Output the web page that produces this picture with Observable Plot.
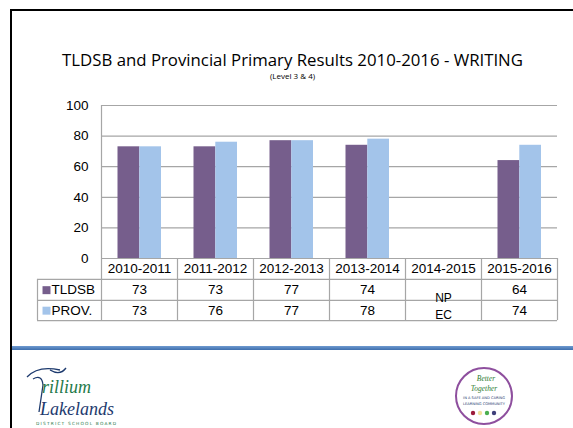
<!DOCTYPE html>
<html><head><meta charset="utf-8">
<script src="https://cdn.jsdelivr.net/npm/d3@7"></script>
<script src="https://cdn.jsdelivr.net/npm/@observablehq/plot@0.6"></script>
<style>
html,body{margin:0;padding:0;background:#fff;}
#wrap{position:relative;width:573px;height:428px;overflow:hidden;background:#fff;}
#wrap svg.plot{position:absolute;left:0;top:0;}
.deco{position:absolute;}
</style></head><body><div id="wrap">
<div class="deco" style="left:10px;top:9px;width:563px;height:2px;background:#000"></div>
<div class="deco" style="left:10px;top:9px;width:2px;height:419px;background:#000"></div>
<div class="deco" style="left:12px;top:346px;width:561px;height:4px;background:linear-gradient(#6f9ad0,#3f6fae)"></div>
<svg class="deco" style="left:20px;top:358px" width="130" height="70">
  <path d="M7 19 Q18 7 40 12 M13 21 Q22 16 23 27 L19 54 M30 12 Q40 18 46 10" stroke="#1d3a6e" stroke-width="1.3" fill="none"/>
  <text x="22" y="35" font-family="Liberation Serif, DejaVu Serif, serif" font-style="italic" font-size="18" fill="#1f7a4a">rillium</text>
  <text x="20" y="57" font-family="Liberation Serif, DejaVu Serif, serif" font-style="italic" font-size="18" fill="#1d3a6e">Lakelands</text>
  <text x="16" y="67" font-family="DejaVu Sans, sans-serif" font-size="4.3" letter-spacing="1.2" fill="#1f7a4a">DISTRICT SCHOOL BOARD</text>
</svg>
<svg class="deco" style="left:452px;top:364px" width="64" height="64">
  <circle cx="32" cy="32" r="28" fill="#fff" stroke="#8e4f9e" stroke-width="2"/>
  <text x="34" y="17" text-anchor="middle" font-family="Liberation Serif, serif" font-style="italic" font-size="7.5" fill="#2e7d32">Better</text>
  <text x="32" y="27" text-anchor="middle" font-family="Liberation Serif, serif" font-style="italic" font-size="7.5" fill="#2e7d32">Together</text>
  <text x="32" y="35" text-anchor="middle" font-family="DejaVu Sans, sans-serif" font-size="3.6" fill="#1d3a6e">IN A SAFE AND CARING</text>
  <text x="32" y="41" text-anchor="middle" font-family="DejaVu Sans, sans-serif" font-size="3.6" fill="#1d3a6e">LEARNING COMMUNITY</text>
  <circle cx="21" cy="49" r="2.2" fill="#9c1b3b"/><circle cx="28" cy="49" r="2.2" fill="#f2e29b"/>
  <circle cx="35" cy="49" r="2.2" fill="#4caf50"/><circle cx="42" cy="49" r="2.2" fill="#3f3f7a"/>
</svg>
</div>
<script>
const years = ["2010-2011","2011-2012","2012-2013","2013-2014","2014-2015","2015-2016"];
const tldsb = [73, 73, 77, 74, null, 64];
const prov  = [73, 76, 77, 78, null, 74];
const seriesNames = ["TLDSB", "PROV."];
const seriesColors = ["#765e8c", "#a3c4ea"];
const yTicks = [0, 20, 40, 60, 80, 100];
const missingNote = ["NP", "EC"];
const titleText = "TLDSB and Provincial Primary Results 2010-2016 - WRITING";
const subtitleText = "(Level 3 & 4)";

// table row positions, in y-scale units below zero
const rowLines = [-13.7, -27.4, -40.6];
const rowCenters = {header: -6.8, tldsb: -20.7, prov: -34.1};

const bars = [];
years.forEach((yr, i) => {
  if (tldsb[i] != null) bars.push({year: yr, series: seriesNames[0], value: tldsb[i]});
  if (prov[i] != null) bars.push({year: yr, series: seriesNames[1], value: prov[i]});
});
const cellRows = [];
years.forEach((yr, i) => {
  if (tldsb[i] != null) cellRows.push({year: yr, y: rowCenters.tldsb, label: String(tldsb[i])});
  if (prov[i] != null) cellRows.push({year: yr, y: rowCenters.prov, label: String(prov[i])});
});
const missingYear = years[tldsb.indexOf(null)];

const FONT = "Liberation Sans, Arial, sans-serif";
const half = 38;
const grid = "#a6a6a6";

const chart = Plot.plot({
  width: 573, height: 428,
  marginLeft: 101, marginRight: 16, marginTop: 105, marginBottom: 170,
  style: {background: "none", fontFamily: FONT, color: "#000", overflow: "visible"},
  x: {type: "band", domain: years, padding: 0, axis: null},
  y: {domain: [0, 100], axis: null},
  color: {domain: seriesNames, range: seriesColors},
  marks: [
    Plot.ruleY(yTicks, {stroke: grid, strokeWidth: 1.2}),
    Plot.barY(bars.filter(d => d.series === seriesNames[0]), {x: "year", y: "value", fill: "series", insetLeft: 16.5, insetRight: 37.7}),
    Plot.barY(bars.filter(d => d.series === seriesNames[1]), {x: "year", y: "value", fill: "series", insetLeft: 38.3, insetRight: 16}),
    Plot.text(yTicks, {x: () => years[0], y: d => d, text: d => String(d), dx: -half - 13, textAnchor: "end", fontSize: 13.5, fill: "#000"}),
    // table horizontal lines
    Plot.ruleY(rowLines, {stroke: grid, strokeWidth: 1.2, insetLeft: -64}),
    // table vertical lines
    Plot.ruleX(years, {x: d => d, dx: -half, y1: rowLines[2], y2: 0, stroke: grid, strokeWidth: 1.2}),
    Plot.ruleX([years[years.length - 1]], {x: d => d, dx: half, y1: rowLines[2], y2: 0, stroke: grid, strokeWidth: 1.2}),
    Plot.ruleX([years[0]], {x: d => d, dx: -half, y1: 0, y2: 100, stroke: grid, strokeWidth: 1.2}),
    Plot.ruleX([years[0]], {x: d => d, dx: -half - 64, y1: rowLines[2], y2: rowLines[0], stroke: grid, strokeWidth: 1.2}),
    // header row
    Plot.text(years, {x: d => d, y: rowCenters.header, text: d => d, fontSize: 13.5, fill: "#000"}),
    // values
    Plot.text(cellRows, {x: "year", y: "y", text: "label", fontSize: 13.5, fill: "#000"}),
    Plot.text([missingNote[0]], {x: () => missingYear, y: -25.6, text: d => d, fontSize: 12, fill: "#000"}),
    Plot.text([missingNote[1]], {x: () => missingYear, y: -36.8, text: d => d, fontSize: 12, fill: "#000"}),
    // legend in table
    Plot.dot(seriesNames, {x: () => years[0], y: (d, i) => i === 0 ? rowCenters.tldsb : rowCenters.prov, dx: -half - 55, symbol: "square", r: 4.5, fill: d => d}),
    Plot.text(seriesNames, {x: () => years[0], y: (d, i) => i === 0 ? rowCenters.tldsb : rowCenters.prov, dx: -half - 50, text: d => d, textAnchor: "start", fontSize: 13.5, fill: "#000"}),
    // title
    Plot.text([titleText], {frameAnchor: "top", dx: -37, dy: -51, text: d => d, fontSize: 16.8, fontFamily: "Open Sans, sans-serif", fill: "#000"}),
    Plot.text([subtitleText], {frameAnchor: "top", dx: -37, dy: -32, text: d => d, fontSize: 8, fontFamily: "Open Sans, sans-serif", fill: "#000"})
  ]
});
document.getElementById("wrap").appendChild(chart);
</script>
</body></html>
